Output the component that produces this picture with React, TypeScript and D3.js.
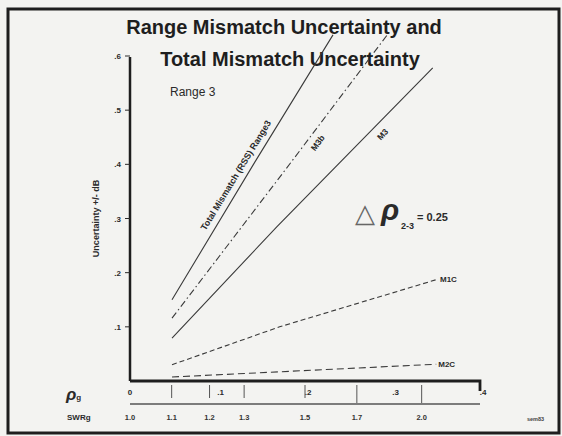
import React, { useRef, useEffect } from 'react'
import * as d3 from 'd3'

// reflection coefficient (rho) vs uncertainty (+/- dB)
const rhoTicks = [0, 0.1, 0.2, 0.3, 0.4]
const rhoTickLabels = ['0', '.1', '.2', '.3', '.4']
const uTicks = [0.1, 0.2, 0.3, 0.4, 0.5, 0.6]
const uTickLabels = ['.1', '.2', '.3', '.4', '.5', '.6']
const swrTicks = [1.0, 1.1, 1.2, 1.3, 1.5, 1.7, 2.0]
const swrTickLabels = ['1.0', '1.1', '1.2', '1.3', '1.5', '1.7', '2.0']

const totalRss = [
  [0.048, 0.15],
  [0.143, 0.405],
  [0.232, 0.639]
]
const m3b = [
  [0.048, 0.116],
  [0.179, 0.393],
  [0.294, 0.639]
]
const m3 = [
  [0.048, 0.079],
  [0.168, 0.285],
  [0.346, 0.578]
]
const m1c = [
  [0.048, 0.03],
  [0.171, 0.1],
  [0.352, 0.188]
]
const m2c = [
  [0.048, 0.0074],
  [0.171, 0.017],
  [0.35, 0.031]
]

const W = 562
const H = 436
const ink = '#2a2a2a'
const font = '"Liberation Sans", Arial, sans-serif'

const App = () => {
  const node = useRef<SVGSVGElement | null>(null)

  useEffect(() => {
    const svg = d3.select(node.current)
    svg.selectAll('*').remove()

    const x = d3.scaleLinear().domain([0, 0.4]).range([130, 480])
    const y = d3.scaleLinear().domain([0, 0.6]).range([381, 56])
    const swrToRho = (s: number) => (s - 1) / (s + 1)

    svg.append('rect').attr('width', W).attr('height', H).attr('fill', '#f3f3f1')
    svg
      .append('rect')
      .attr('x', 8)
      .attr('y', 9)
      .attr('width', 551)
      .attr('height', 424)
      .attr('fill', 'none')
      .attr('stroke', '#1e1e1e')
      .attr('stroke-width', 3)

    // title
    const title = svg
      .append('text')
      .attr('text-anchor', 'middle')
      .attr('font-family', font)
      .attr('font-weight', 'bold')
      .attr('font-size', 20)
      .attr('fill', '#1e1e1e')
    title.append('tspan').attr('x', 284).attr('y', 34).text('Range Mismatch Uncertainty and')
    title.append('tspan').attr('x', 290).attr('y', 66).text('Total Mismatch Uncertainty')

    // curves
    const line = d3
      .line<number[]>()
      .x((d) => x(d[0]))
      .y((d) => y(d[1]))

    const series = [
      { data: totalRss, dash: null },
      { data: m3b, dash: '7,3,1.5,3' },
      { data: m3, dash: null },
      { data: m1c, dash: '5,3' },
      { data: m2c, dash: '7,4' }
    ]
    series.forEach((s) => {
      svg
        .append('path')
        .attr('d', line(s.data))
        .attr('fill', 'none')
        .attr('stroke', '#3a3a3a')
        .attr('stroke-width', 1.1)
        .attr('stroke-dasharray', s.dash)
    })

    // rotated labels along curves
    const along = (data: number[][], t: number, off: number, txt: string, size: number) => {
      const a = data[0]
      const b = data[data.length - 1]
      const x0 = x(a[0])
      const y0 = y(a[1])
      const x1 = x(b[0])
      const y1 = y(b[1])
      const px = x0 + (x1 - x0) * t
      const py = y0 + (y1 - y0) * t
      const ang = Math.atan2(y1 - y0, x1 - x0)
      // perpendicular offset (positive = above/left)
      const nx = Math.sin(ang) * off
      const ny = -Math.cos(ang) * off
      svg
        .append('text')
        .attr('transform', `translate(${px + nx},${py + ny}) rotate(${(ang * 180) / Math.PI})`)
        .attr('text-anchor', 'middle')
        .attr('dominant-baseline', 'central')
        .attr('font-family', font)
        .attr('font-weight', 'bold')
        .attr('font-size', size)
        .attr('fill', ink)
        .text(txt)
    }
    along(totalRss, 0.45, 10, 'Total Mismatch (RSS) Range3', 9)
    along(m3b, 0.64, -10, 'M3b', 8.5)
    along(m3, 0.78, -10, 'M3', 8.5)

    const endLabel = (data: number[][], txt: string) => {
      const b = data[data.length - 1]
      svg
        .append('text')
        .attr('x', x(b[0]) + 2)
        .attr('y', y(b[1]))
        .attr('dominant-baseline', 'central')
        .attr('font-family', font)
        .attr('font-weight', 'bold')
        .attr('font-size', 8)
        .attr('fill', ink)
        .text(txt)
    }
    endLabel(m1c, 'M1C')
    endLabel(m2c, 'M2C')

    // y axis
    svg
      .append('line')
      .attr('x1', x(0))
      .attr('x2', x(0))
      .attr('y1', 57)
      .attr('y2', y(0))
      .attr('stroke', '#1e1e1e')
      .attr('stroke-width', 2.5)
    uTicks.forEach((u, i) => {
      svg
        .append('line')
        .attr('x1', x(0) - 5)
        .attr('x2', x(0))
        .attr('y1', y(u))
        .attr('y2', y(u))
        .attr('stroke', ink)
        .attr('stroke-width', 1)
      svg
        .append('text')
        .attr('x', x(0) - 9)
        .attr('y', y(u) + 3)
        .attr('text-anchor', 'end')
        .attr('font-family', font)
        .attr('font-weight', 'bold')
        .attr('font-size', 8)
        .attr('fill', ink)
        .text(uTickLabels[i])
    })
    svg
      .append('text')
      .attr('transform', `translate(99,${(y(0.4) + y(0.2)) / 2}) rotate(-90)`)
      .attr('text-anchor', 'middle')
      .attr('font-family', font)
      .attr('font-weight', 'bold')
      .attr('font-size', 9)
      .attr('fill', ink)
      .text('Uncertainty +/- dB')

    // rho axis
    svg
      .append('path')
      .attr('d', `M${x(0)},${y(0)}H${x(0.4)}V${y(0) + 10}`)
      .attr('fill', 'none')
      .attr('stroke', '#1e1e1e')
      .attr('stroke-width', 2.8)
    rhoTicks.forEach((r, i) => {
      svg
        .append('text')
        .attr('x', x(r) + (i === 0 ? 0 : 3))
        .attr('y', y(0) + 14)
        .attr('text-anchor', 'middle')
        .attr('font-family', font)
        .attr('font-weight', 'bold')
        .attr('font-size', 8)
        .attr('fill', ink)
        .text(rhoTickLabels[i])
    })

    // SWR scale
    svg
      .append('line')
      .attr('x1', x(0))
      .attr('x2', x(0.4))
      .attr('y1', 404)
      .attr('y2', 404)
      .attr('stroke', '#555')
      .attr('stroke-width', 1.3)
    swrTicks.forEach((s, i) => {
      const px = x(swrToRho(s))
      if (i > 0) {
        svg
          .append('line')
          .attr('x1', px)
          .attr('x2', px)
          .attr('y1', y(0) + 4)
          .attr('y2', i > 4 ? 403 : 398)
          .attr('stroke', '#555')
          .attr('stroke-width', 1)
      }
      svg
        .append('text')
        .attr('x', px)
        .attr('y', 420)
        .attr('text-anchor', 'middle')
        .attr('font-family', font)
        .attr('font-weight', 'bold')
        .attr('font-size', 7.5)
        .attr('fill', '#333')
        .text(swrTickLabels[i])
    })

    // rho_g and SWRg captions
    const rg = svg
      .append('text')
      .attr('x', 66)
      .attr('y', 400)
      .attr('font-family', font)
      .attr('font-weight', 'bold')
      .attr('fill', ink)
    rg.append('tspan').attr('font-size', 17).attr('font-style', 'italic').text('ρ')
    rg.append('tspan').attr('font-size', 8).attr('dy', 0).text('g')
    svg
      .append('text')
      .attr('x', 67)
      .attr('y', 420)
      .attr('font-family', font)
      .attr('font-weight', 'bold')
      .attr('font-size', 8)
      .attr('fill', ink)
      .text('SWRg')

    // annotations
    svg
      .append('text')
      .attr('x', 170)
      .attr('y', 96)
      .attr('font-family', font)
      .attr('font-size', 12)
      .attr('fill', ink)
      .text('Range 3')

    const dr = svg
      .append('g')
      .attr('font-family', font)
      .attr('fill', ink)
    dr.append('text')
      .attr('x', 355)
      .attr('y', 222)
      .attr('font-family', '"DejaVu Sans", sans-serif')
      .attr('font-size', 26)
      .attr('fill', '#666')
      .text('△')
    dr.append('text')
      .attr('x', 381)
      .attr('y', 220)
      .attr('font-size', 30)
      .attr('font-weight', 'bold')
      .attr('font-style', 'italic')
      .text('ρ')
    dr.append('text')
      .attr('x', 401)
      .attr('y', 229)
      .attr('font-size', 9)
      .attr('font-weight', 'bold')
      .text('2-3')
    dr.append('text')
      .attr('x', 417)
      .attr('y', 221)
      .attr('font-size', 11)
      .attr('font-weight', 'bold')
      .text('= 0.25')

    svg
      .append('text')
      .attr('x', 527)
      .attr('y', 421)
      .attr('font-family', font)
      .attr('font-weight', 'bold')
      .attr('font-size', 5.5)
      .attr('fill', '#444')
      .text('sem83')
  }, [node])

  return <svg ref={node} width={W} height={H} style={{ position: 'absolute', left: 0, top: 0 }}></svg>
}

export default App
